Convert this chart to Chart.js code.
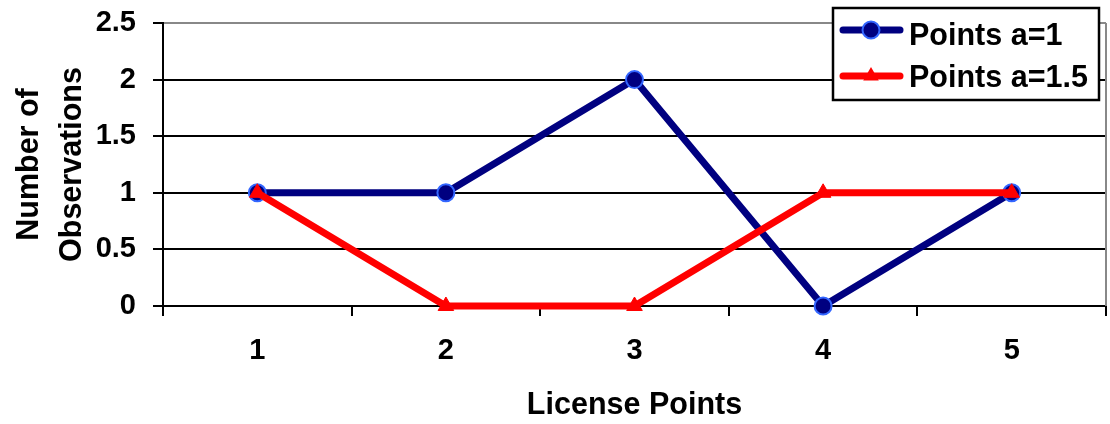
<!DOCTYPE html>
<html>
<head>
<meta charset="utf-8">
<script src="https://cdn.jsdelivr.net/npm/chart.js@4/dist/chart.umd.min.js"></script>
<style>
  html, body { margin: 0; padding: 0; background: #fff; }
  #wrap { width: 1110px; height: 424px; }
</style>
</head>
<body>
<div id="wrap"><canvas id="c" width="1110" height="424"></canvas></div>
<script>
// Categories along the x axis (license points)
const categories = ['1', '2', '3', '4', '5'];
// Observation counts for each series
const pointsA1 = [1, 1, 2, 0, 1];
const pointsA15 = [1, 0, 0, 1, 1];
// Labels shown on the y axis
const yTickLabels = ['0', '0.5', '1', '1.5', '2', '2.5'];
const seriesNames = ['Points a=1', 'Points a=1.5'];

const FONT = '"Liberation Sans", Arial, Helvetica, sans-serif';
const NAVY = '#000080';
const RIM = '#3366ff';
const RED = '#ff0000';

// Gray frame on the right edge of the plot area
const frame = {
  id: 'frame',
  afterDatasetsDraw(chart) {
    const { ctx, chartArea: a } = chart;
    ctx.save();
    ctx.strokeStyle = '#888888';
    ctx.lineWidth = 2;
    ctx.beginPath();
    ctx.moveTo(a.right, a.top);
    ctx.lineTo(a.right, a.bottom);
    ctx.stroke();
    ctx.restore();
  }
};

// Boxed legend drawn inside the plot area, top right
const boxLegend = {
  id: 'boxLegend',
  afterDraw(chart) {
    const { ctx } = chart;
    const x0 = 833, y0 = 8, x1 = 1099, y1 = 100;
    ctx.save();
    ctx.fillStyle = '#ffffff';
    ctx.fillRect(x0, y0, x1 - x0, y1 - y0);
    ctx.strokeStyle = '#000000';
    ctx.lineWidth = 2.5;
    ctx.strokeRect(x0, y0, x1 - x0, y1 - y0);

    const rows = [
      { y: 30, color: NAVY, style: 'circle', text: seriesNames[0], base: 45 },
      { y: 76, color: RED, style: 'triangle', text: seriesNames[1], base: 87 }
    ];
    rows.forEach(r => {
      ctx.strokeStyle = r.color;
      ctx.lineWidth = 7;
      ctx.lineCap = 'round';
      ctx.beginPath();
      ctx.moveTo(843, r.y);
      ctx.lineTo(900, r.y);
      ctx.stroke();
      const cx = 871;
      if (r.style === 'circle') {
        ctx.beginPath();
        ctx.arc(cx, r.y, 8.5, 0, Math.PI * 2);
        ctx.fillStyle = NAVY;
        ctx.fill();
        ctx.lineWidth = 2;
        ctx.strokeStyle = RIM;
        ctx.stroke();
      } else {
        const rr = 9;
        ctx.beginPath();
        ctx.moveTo(cx, r.y - rr);
        ctx.lineTo(cx + rr * 0.866, r.y + rr * 0.5);
        ctx.lineTo(cx - rr * 0.866, r.y + rr * 0.5);
        ctx.closePath();
        ctx.fillStyle = RED;
        ctx.fill();
      }
      ctx.fillStyle = '#000000';
      ctx.font = 'bold 30.5px ' + FONT;
      ctx.textAlign = 'left';
      ctx.textBaseline = 'alphabetic';
      ctx.fillText(r.text, 909, r.base);
    });
    ctx.restore();
  }
};

new Chart(document.getElementById('c'), {
  type: 'line',
  data: {
    labels: categories,
    datasets: [
      {
        label: seriesNames[0],
        data: pointsA1,
        borderColor: NAVY,
        backgroundColor: NAVY,
        borderWidth: 7,
        borderJoinStyle: 'round',
        borderCapStyle: 'round',
        pointStyle: 'circle',
        pointRadius: 8.5,
        pointBackgroundColor: NAVY,
        pointBorderColor: RIM,
        pointBorderWidth: 2,
        tension: 0,
        clip: false,
        order: 1
      },
      {
        label: seriesNames[1],
        data: pointsA15,
        borderColor: RED,
        backgroundColor: RED,
        borderWidth: 7,
        borderJoinStyle: 'round',
        borderCapStyle: 'round',
        pointStyle: 'triangle',
        pointRadius: 9,
        pointBackgroundColor: RED,
        pointBorderColor: RED,
        pointBorderWidth: 1,
        tension: 0,
        clip: false,
        order: 0
      }
    ]
  },
  options: {
    responsive: false,
    animation: false,
    events: [],
    layout: { autoPadding: false, padding: { top: 23, right: 4, bottom: 0, left: 0 } },
    plugins: {
      legend: { display: false },
      tooltip: { enabled: false }
    },
    scales: {
      x: {
        type: 'category',
        offset: true,
        grid: {
          offset: true,
          drawOnChartArea: false,
          drawTicks: true,
          tickLength: 10,
          color: '#000000',
          lineWidth: 2
        },
        border: { display: true, color: '#000000', width: 2 },
        ticks: {
          color: '#000000',
          padding: 18,
          maxRotation: 0,
          font: { family: FONT, size: 29, weight: 'bold' }
        },
        title: {
          display: true,
          text: 'License Points',
          color: '#000000',
          font: { family: FONT, size: 30.5, weight: 'bold', lineHeight: 1.2 },
          padding: { top: 0, bottom: 0 }
        },
        afterFit(s) {
          s.height = 118;
          s.paddingLeft = 0;
          s.paddingRight = 0;
        }
      },
      y: {
        min: 0,
        max: 2.5,
        grid: {
          color: c => (c.tick && c.tick.value === 2.5 ? '#888888' : '#000000'),
          tickColor: '#000000',
          lineWidth: 2,
          drawTicks: true,
          tickLength: 10
        },
        border: { display: true, color: '#000000', width: 2 },
        ticks: {
          stepSize: 0.5,
          color: '#000000',
          padding: 17,
          font: { family: FONT, size: 29, weight: 'bold' },
          callback: (v, i) => yTickLabels[i]
        },
        title: {
          display: true,
          text: ['Number of', 'Observations'],
          color: '#000000',
          font: { family: FONT, size: 30.5, weight: 'bold', lineHeight: 1.42 },
          padding: { top: 8, bottom: 0 }
        },
        afterFit(s) {
          s.width = 163;
          s.paddingTop = 0;
          s.paddingBottom = 0;
        }
      }
    }
  },
  plugins: [frame, boxLegend]
});
</script>
</body>
</html>
